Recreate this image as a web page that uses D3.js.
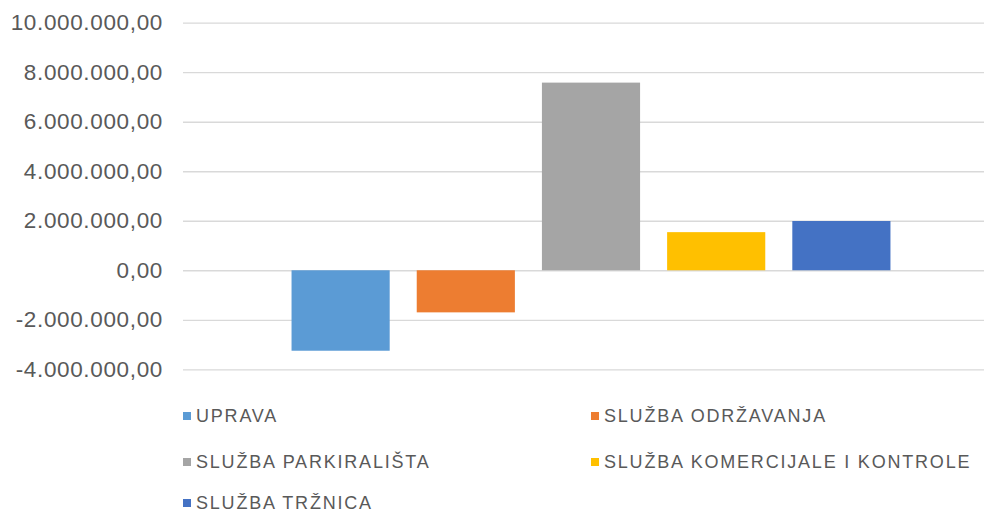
<!DOCTYPE html>
<html>
<head>
<meta charset="utf-8">
<script src="https://cdn.jsdelivr.net/npm/d3@7"></script>
<style>
  body { margin: 0; background: #fff; }
  svg { display: block; }
</style>
</head>
<body>
<svg id="chart"></svg>
<script>
// data
var series = ["UPRAVA", "SLUŽBA ODRŽAVANJA", "SLUŽBA PARKIRALIŠTA", "SLUŽBA KOMERCIJALE I KONTROLE", "SLUŽBA TRŽNICA"]
var values = [-3250000, -1700000, 7580000, 1540000, 1990000]
var colors = ["#5B9BD5", "#ED7D31", "#A5A5A5", "#FFC000", "#4472C4"]
var yTicks = [-4000000, -2000000, 0, 2000000, 4000000, 6000000, 8000000, 10000000]

var dimensions = {
    width: 984,
    height: 511,
    margin: { top: 22.7, bottom: 141.7, left: 183, right: -15 }
}

var hr = d3.formatLocale({ decimal: ",", thousands: ".", grouping: [3], currency: ["", ""], minus: "-" })
var fmt = hr.format(",.2f")

var svg = d3.select("#chart")
            .attr("width", dimensions.width)
            .attr("height", dimensions.height)

var xScale = d3.scaleBand()
               .domain(series)
               .range([dimensions.margin.left, dimensions.width - dimensions.margin.right])
               .paddingInner(0.216)
               .paddingOuter(0.867)

var yScale = d3.scaleLinear()
               .domain([-4000000, 10000000])
               .range([dimensions.height - dimensions.margin.bottom, dimensions.margin.top])

// gridlines + labels
var yAxisGen = d3.axisLeft(yScale)
                 .tickValues(yTicks)
                 .tickFormat(fmt)
                 .tickSize(-(xScale.range()[1] - xScale.range()[0]))
                 .tickPadding(20)
var yAxis = svg.append("g")
               .attr("transform", `translate(${dimensions.margin.left},0)`)
               .call(yAxisGen)
yAxis.select(".domain").remove()
yAxis.selectAll("line").attr("stroke", "#D9D9D9").attr("stroke-width", 1.3)
yAxis.selectAll("text")
     .attr("fill", "#595959")
     .style("font-family", "'Liberation Sans', Arial, sans-serif")
     .style("font-size", "22.5px")
     .style("letter-spacing", "0.65px")

// bars
svg.append("g")
   .selectAll("rect")
   .data(values)
   .enter()
   .append("rect")
   .attr("x", (d, i) => xScale(series[i]))
   .attr("y", d => yScale(Math.max(0, d)))
   .attr("width", xScale.bandwidth())
   .attr("height", d => Math.abs(yScale(d) - yScale(0)))
   .attr("fill", (d, i) => colors[i])

// legend
var legendCols = [183, 591]
var legendRows = [416, 462, 503]
var legend = svg.append("g")
                .selectAll("g")
                .data(series)
                .enter()
                .append("g")
                .attr("transform", (d, i) => `translate(${legendCols[i % 2]},${legendRows[Math.floor(i / 2)]})`)
legend.append("rect")
      .attr("x", 0)
      .attr("y", -4)
      .attr("width", 8)
      .attr("height", 8)
      .attr("fill", (d, i) => colors[i])
legend.append("text")
      .attr("x", 13)
      .attr("dy", "0.35em")
      .attr("fill", "#595959")
      .style("font-family", "'Liberation Sans', Arial, sans-serif")
      .style("font-size", "18px")
      .style("letter-spacing", "1.8px")
      .text(d => d)
</script>
</body>
</html>
